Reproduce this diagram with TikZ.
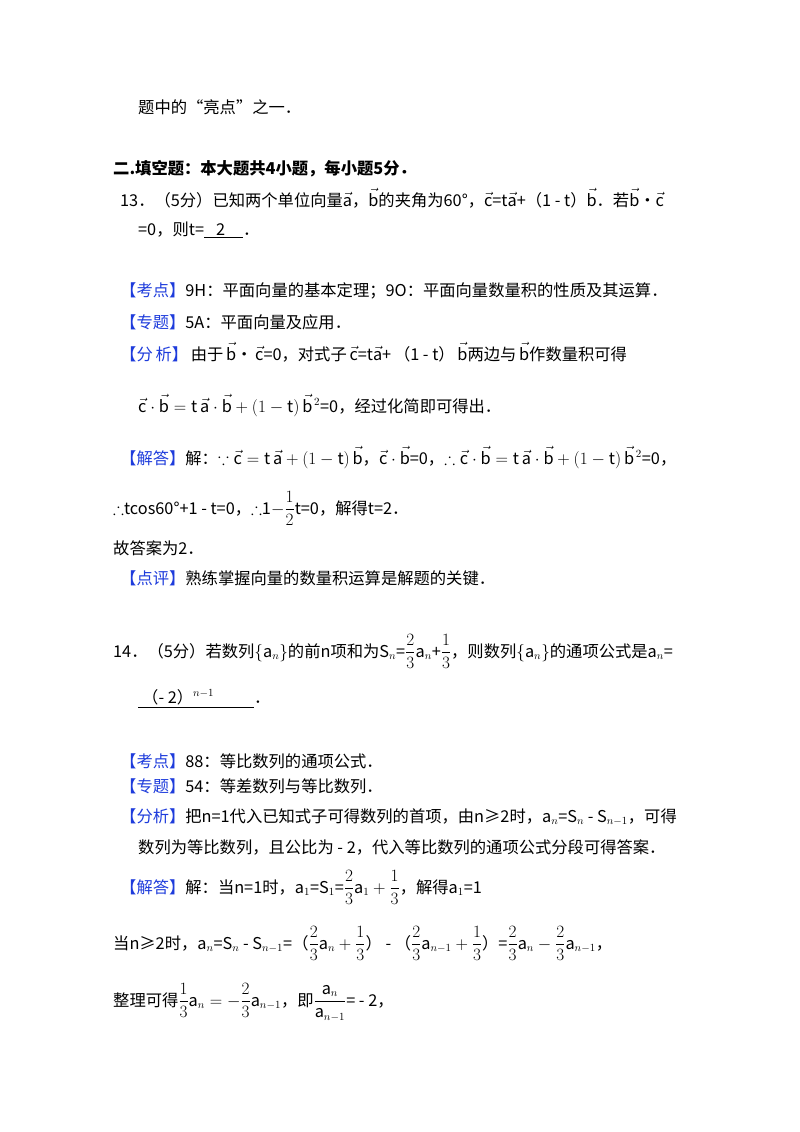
\documentclass[tikz,border=0pt]{standalone}
\usepackage{amsmath,amssymb}
\usepackage{fontspec}
\setmainfont{Noto Sans CJK SC}
\definecolor{kblue}{RGB}{30,60,220}
\newcommand{\kb}[1]{\textcolor{kblue}{【#1】}}
\newcommand{\va}{\vec{\mathrm a}}
\newcommand{\vb}{\vec{\mathrm b}}
\newcommand{\vc}{\vec{\mathrm c}}
\begin{document}
\begin{tikzpicture}[x=1pt,y=-1pt,
  every node/.style={anchor=base west,inner sep=0pt,font=\fontsize{16.3}{19}\selectfont}]
\useasboundingbox[fill=white] (0,0) rectangle (800,1132);
\node (l1) at (138,113) {题中的“亮点”之一．};
\node (l2) at (113,174) {\bfseries 二.填空题：本大题共4小题，每小题5分．};
\node (l3) at (120,206) {13．（5分）已知两个单位向量$\va$，$\vb$的夹角为60°，$\vc$=t$\va$+（1 - t）$\vb$．若$\vb$•$\vc$};
\node (l4) at (138,235) {=0，则t=\underline{\hspace{12pt}2\hspace{18pt}}．};
\node (l5) at (120,296) {\kb{考点}9H：平面向量的基本定理；9O：平面向量数量积的性质及其运算．};
\node (l6) at (120,328) {\kb{专题}5A：平面向量及应用．};
\node (l7) at (120,360) {\kb{分\,析}\,由于\,$\vb$•\,$\vc$=0，对式子\,$\vc$=t$\va$+\,（1 - t）\,$\vb$两边与\,$\vb$作数量积可得};
\node (l8) at (138,412) {$\vc\cdot\vb=\mathrm t\,\va\cdot\vb+(1-\mathrm t)\,\vb^{\,2}$=0，经过化简即可得出．};
\node (l9) at (120,464) {\kb{解答}解：$\because\vc=\mathrm t\,\va+(1-\mathrm t)\,\vb$，$\vc\cdot\vb$=0，$\therefore\vc\cdot\vb=\mathrm t\,\va\cdot\vb+(1-\mathrm t)\,\vb^{\,2}$=0，};
\node (l10) at (113,514) {$\therefore$tcos60°+1 - t=0，$\therefore$1$-\dfrac{1}{2}$t=0，解得t=2．};
\node (l11) at (113,554) {故答案为2．};
\node (l12) at (120,584) {\kb{点评}熟练掌握向量的数量积运算是解题的关键．};
\node (l13) at (113,657) {14．（5分）若数列$\{\mathrm a_n\}$的前n项和为S$_n$=$\dfrac{2}{3}$a$_n$+$\dfrac{1}{3}$，则数列$\{\mathrm a_n\}$的通项公式是a$_n$=};
\node (l14) at (138,703) {\underline{\hspace{4pt}（- 2）$^{n-1}$\hspace{40pt}}．};
\node (l15) at (120,767) {\kb{考点}88：等比数列的通项公式．};
\node (l16) at (120,792) {\kb{专题}54：等差数列与等比数列．};
\node (l17) at (120,822) {\kb{分析}把n=1代入已知式子可得数列的首项，由n≥2时，a$_n$=S$_n$ - S$_{n-1}$，可得};
\node (l18) at (138,853) {数列为等比数列，且公比为 - 2，代入等比数列的通项公式分段可得答案．};
\node (l19) at (120,893) {\kb{解答}解：当n=1时，a$_1$=S$_1$=$\dfrac{2}{3}\mathrm a_1+\dfrac{1}{3}$，解得a$_1$=1};
\node (l20) at (113,949) {当n≥2时，a$_n$=S$_n$ - S$_{n-1}$=（$\dfrac{2}{3}\mathrm a_n+\dfrac{1}{3}$） -  （$\dfrac{2}{3}\mathrm a_{n-1}+\dfrac{1}{3}$）=$\dfrac{2}{3}\mathrm a_n-\dfrac{2}{3}\mathrm a_{n-1}$，};
\node (l21) at (113,1006) {整理可得$\dfrac{1}{3}\mathrm a_n=-\dfrac{2}{3}\mathrm a_{n-1}$，即$\dfrac{\mathrm a_n}{\mathrm a_{n-1}}$= - 2，};
\end{tikzpicture}
\end{document}
